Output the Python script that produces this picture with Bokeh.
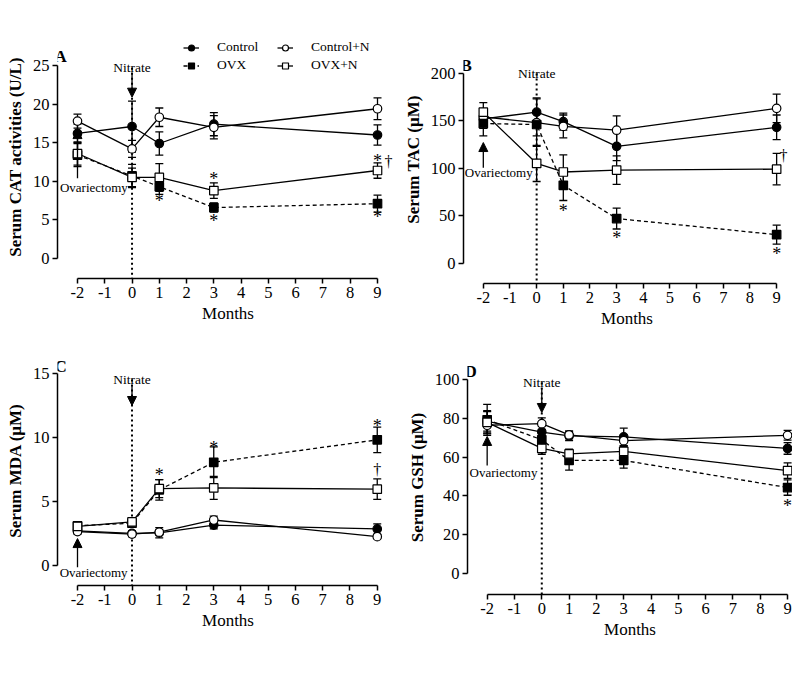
from bokeh.plotting import figure
from bokeh.models import (ColumnDataSource, Whisker, TeeHead, Arrow, NormalHead,
                          Legend, LegendItem, FixedTicker, Label, Range1d)
from bokeh.layouts import column, row
from bokeh.embed import file_html
from bokeh.resources import INLINE
from bokeh.core.properties import value

FONT = "Liberation Serif"

# ---------------- data ----------------
months = [-2, 0, 1, 3, 9]
month_ticks = [-2, -1, 0, 1, 2, 3, 4, 5, 6, 7, 8, 9]
groups = ["Control", "Control+N", "OVX", "OVX+N"]
OVARIECTOMY_MONTH = -2
NITRATE_MONTH = 0

# A: Serum CAT activities (U/L)
cat_ticks = [0, 5, 10, 15, 20, 25]
cat_control = [16.2, 17.1, 14.9, 17.4, 16.0]
cat_control_err = [1.2, 3.3, 1.5, 1.5, 1.3]
cat_control_n = [17.8, 14.2, 18.3, 17.0, 19.4]
cat_control_n_err = [0.9, 1.1, 1.2, 1.5, 1.4]
cat_ovx = [13.4, 10.7, 9.3, 6.6, 7.1]
cat_ovx_err = [1.5, 1.5, 1.0, 0.6, 1.1]
cat_ovx_n = [13.6, 10.5, 10.5, 8.8, 11.4]
cat_ovx_n_err = [1.5, 1.2, 1.8, 1.0, 1.0]
cat_star_x = [1, 3, 3, 9, 9]
cat_star_y = [8.0, 10.8, 5.4, 13.1, 5.85]
cat_dagger_x = [9.4]
cat_dagger_y = [12.6]

# B: Serum TAC (uM)
tac_ticks = [0, 50, 100, 150, 200]
tac_control = [152, 159, 149, 123, 143]
tac_control_err = [10, 15, 9, 15, 13]
tac_control_n = [154, 148, 144, 140, 163]
tac_control_n_err = [8, 25, 12, 15, 15]
tac_ovx = [147, 146, 82, 47, 30]
tac_ovx_err = [13, 12, 16, 11, 10]
tac_ovx_n = [159, 105, 96, 98, 99]
tac_ovx_n_err = [10, 19, 18, 15, 16.5]
tac_star_x = [1, 3, 9]
tac_star_y = [58.9, 30.9, 14]
tac_dagger_x = [9.26]
tac_dagger_y = [113]

# C: Serum MDA (uM)
mda_ticks = [0, 5, 10, 15]
mda_control = [2.7, 2.5, 2.55, 3.15, 2.85]
mda_control_err = [0.2, 0.2, 0.4, 0.3, 0.4]
mda_control_n = [2.65, 2.45, 2.6, 3.55, 2.25]
mda_control_n_err = [0.2, 0.2, 0.2, 0.3, 0.15]
mda_ovx = [3.1, 3.3, 5.9, 8.05, 9.8]
mda_ovx_err = [0.2, 0.2, 0.8, 1.2, 1.0]
mda_ovx_n = [3.05, 3.4, 6.0, 6.05, 5.95]
mda_ovx_n_err = [0.2, 0.2, 0.7, 0.9, 0.8]
mda_star_x = [1, 3, 9]
mda_star_y = [7.4, 9.5, 11.2]
mda_dagger_x = [9]
mda_dagger_y = [7.5]

# D: Serum GSH (uM)
gsh_ticks = [0, 20, 40, 60, 80, 100]
gsh_control = [78.5, 73, 71, 70.5, 64.5]
gsh_control_err = [5, 3, 2.5, 4.5, 3]
gsh_control_n = [76.5, 77.3, 71.5, 68.5, 71.3]
gsh_control_n_err = [4, 3, 2, 3, 2.5]
gsh_ovx = [79.3, 69, 58.3, 58.3, 44.3]
gsh_ovx_err = [8, 4, 5, 4, 4]
gsh_ovx_n = [78, 64.5, 61.7, 63, 53]
gsh_ovx_n_err = [6, 3, 2.5, 3, 4]
gsh_star_x = [9]
gsh_star_y = [36.9]
gsh_dagger_x = []
gsh_dagger_y = []

# ---------------- styles ----------------
STYLES = {
    "Control": dict(marker="circle", fill="black", dash="solid"),
    "Control+N": dict(marker="circle", fill="white", dash="solid"),
    "OVX": dict(marker="square", fill="black", dash="4 3"),
    "OVX+N": dict(marker="square", fill="white", dash="solid"),
}


def make_panel(spec):
    g = spec["geom"]
    p = figure(width=g["w"], height=g["h"],
               x_range=Range1d(*g["xr"]), y_range=Range1d(*g["yr"]),
               min_border_left=g["bl"], min_border_right=g["br"],
               min_border_top=g["bt"], min_border_bottom=g["bb"],
               output_backend="svg", toolbar_location=None, tools="")
    p.grid.visible = False
    p.outline_line_color = None

    p.xaxis.ticker = FixedTicker(ticks=month_ticks)
    p.xaxis.bounds = (month_ticks[0], month_ticks[-1])
    p.xaxis.major_label_overrides = {t: str(t) for t in month_ticks}
    p.yaxis.ticker = FixedTicker(ticks=spec["yticks"])
    p.yaxis.bounds = (spec["yticks"][0], spec["yticks"][-1])
    for ax in p.axis:
        ax.axis_line_width = 1.5
        ax.axis_line_color = "black"
        ax.major_tick_line_width = 1.5
        ax.major_tick_line_color = "black"
        ax.major_tick_out = 5
        ax.major_tick_in = 0
        ax.minor_tick_line_color = None
        ax.major_label_text_font = FONT
        ax.major_label_text_font_size = "16.5px"
        ax.major_label_text_color = "black"
        ax.major_label_standoff = 3
        ax.axis_label_text_font = FONT
        ax.axis_label_text_font_size = "17px"
        ax.axis_label_text_color = "black"
    p.xaxis.axis_label = "Months"
    p.xaxis.axis_label_text_font_style = "normal"
    p.xaxis.axis_label_standoff = 3
    p.yaxis.axis_label = spec["ylabel"]
    p.yaxis.axis_label_text_font_style = "bold"
    p.yaxis.axis_label_standoff = 5

    ann = spec["ann"]
    # dotted nitrate line
    p.segment(x0=[NITRATE_MONTH], y0=[ann["nit_y"]], x1=[NITRATE_MONTH], y1=[g["yr"][0]],
              line_color="black", line_width=2, line_dash="2 3")

    items = []
    for grp in groups:
        y = spec["means"][grp]
        e = spec["errs"][grp]
        src = ColumnDataSource(dict(x=months, y=y,
                                    lo=[a - b for a, b in zip(y, e)],
                                    hi=[a + b for a, b in zip(y, e)]))
        w = Whisker(source=src, base="x", upper="hi", lower="lo",
                    line_width=1.3, line_color="black",
                    upper_head=TeeHead(size=8, line_width=1.3, line_color="black"),
                    lower_head=TeeHead(size=8, line_width=1.3, line_color="black"))
        p.add_layout(w)
        st = STYLES[grp]
        lr = p.line("x", "y", source=src, line_color="black", line_width=1.3, line_dash=st["dash"])
        sr = p.scatter("x", "y", source=src, marker=st["marker"], size=8.5,
                       fill_color=st["fill"], line_color="black", line_width=1.2)
        items.append(LegendItem(label=value(grp), renderers=[lr, sr]))

    # significance marks
    p.text(x=spec["star_x"], y=spec["star_y"], text=["*"] * len(spec["star_x"]),
           text_font=value(FONT), text_font_size="18px", text_align="center",
           text_baseline="middle", y_offset=4, text_color="black")
    if spec["dag_x"]:
        p.text(x=spec["dag_x"], y=spec["dag_y"], text=["\u2020"] * len(spec["dag_x"]),
               text_font=value(FONT), text_font_size="16px", text_align="center",
               text_baseline="middle", text_color="black")

    # annotations
    p.add_layout(Label(x=NITRATE_MONTH, y=ann["nit_y"], text="Nitrate", text_font=FONT,
                       text_font_size="13.5px", text_align="center", text_baseline="middle",
                       text_color="black"))
    if ann.get("nit_arrow"):
        y0, y1 = ann["nit_arrow"]
        p.add_layout(Arrow(x_start=NITRATE_MONTH, y_start=y0, x_end=NITRATE_MONTH, y_end=y1,
                           line_width=1.3, line_color="black",
                           end=NormalHead(size=9, fill_color="black", line_color="black", line_width=1)))
    p.add_layout(Label(x=ann["ovx_x"], y=ann["ovx_y"], text="Ovariectomy", text_font=FONT,
                       text_font_size="13px", text_align="center", text_baseline="middle",
                       text_color="black"))
    y0, y1 = ann["ovx_arrow"]
    p.add_layout(Arrow(x_start=OVARIECTOMY_MONTH, y_start=y0, x_end=OVARIECTOMY_MONTH, y_end=y1,
                       line_width=1.3, line_color="black",
                       end=NormalHead(size=9, fill_color="black", line_color="black", line_width=1)))

    # panel letter
    p.add_layout(Label(x=g["xr"][0], y=ann["letter_y"], x_offset=-3, text=spec["letter"],
                       text_font=FONT, text_font_size="17px", text_font_style="bold",
                       text_align="left", text_baseline="middle", text_color="black"))

    if spec.get("legend"):
        leg = Legend(items=items, orientation="horizontal", ncols=2,
                     location=(126, 205), padding=0, margin=0, spacing=2,
                     glyph_width=16, glyph_height=15, label_height=15, label_width=58,
                     label_standoff=18, label_text_font=FONT, label_text_font_size="13.5px",
                     label_text_baseline="middle", label_text_color="black",
                     border_line_color=None, background_fill_alpha=0)
        p.add_layout(leg)
    return p


pA = make_panel(dict(
    letter="A", ylabel="Serum CAT activities (U/L)", yticks=cat_ticks,
    means={"Control": cat_control, "Control+N": cat_control_n, "OVX": cat_ovx, "OVX+N": cat_ovx_n},
    errs={"Control": cat_control_err, "Control+N": cat_control_n_err, "OVX": cat_ovx_err, "OVX+N": cat_ovx_n_err},
    star_x=cat_star_x, star_y=cat_star_y, dag_x=cat_dagger_x, dag_y=cat_dagger_y,
    ann=dict(nit_y=24.7, nit_arrow=(24.1, 20.9), ovx_x=-1.40, ovx_y=9.22, ovx_arrow=(10.4, 16.7), letter_y=26.2),
    geom=dict(w=400, h=342, bl=57, br=2, bt=35, bb=64, xr=(-2.733, 9.77), yr=(-2.59, 28.89)),
    legend=True))

pB = make_panel(dict(
    letter="B", ylabel="Serum TAC (\u03bcM)", yticks=tac_ticks,
    means={"Control": tac_control, "Control+N": tac_control_n, "OVX": tac_ovx, "OVX+N": tac_ovx_n},
    errs={"Control": tac_control_err, "Control+N": tac_control_n_err, "OVX": tac_ovx_err, "OVX+N": tac_ovx_n_err},
    star_x=tac_star_x, star_y=tac_star_y, dag_x=tac_dagger_x, dag_y=tac_dagger_y,
    ann=dict(nit_y=199.7, nit_arrow=None, ovx_x=-1.42, ovx_y=95, ovx_arrow=(100.5, 127), letter_y=208),
    geom=dict(w=392, h=342, bl=60, br=2, bt=35, bb=59, xr=(-2.743, 9.52), yr=(-21.4, 239.7))))

pC = make_panel(dict(
    letter="C", ylabel="Serum MDA (\u03bcM)", yticks=mda_ticks,
    means={"Control": mda_control, "Control+N": mda_control_n, "OVX": mda_ovx, "OVX+N": mda_ovx_n},
    errs={"Control": mda_control_err, "Control+N": mda_control_n_err, "OVX": mda_ovx_err, "OVX+N": mda_ovx_n_err},
    star_x=mda_star_x, star_y=mda_star_y, dag_x=mda_dagger_x, dag_y=mda_dagger_y,
    ann=dict(nit_y=14.5, nit_arrow=(14.0, 12.48), ovx_x=-1.41, ovx_y=-0.55, ovx_arrow=(-0.13, 2.1), letter_y=15.52),
    geom=dict(w=400, h=335, bl=57, br=2, bt=13, bb=92, xr=(-2.734, 9.78), yr=(-1.56, 16.38))))

pD = make_panel(dict(
    letter="D", ylabel="Serum GSH (\u03bcM)", yticks=gsh_ticks,
    means={"Control": gsh_control, "Control+N": gsh_control_n, "OVX": gsh_ovx, "OVX+N": gsh_ovx_n},
    errs={"Control": gsh_control_err, "Control+N": gsh_control_n_err, "OVX": gsh_ovx_err, "OVX+N": gsh_ovx_n_err},
    star_x=gsh_star_x, star_y=gsh_star_y, dag_x=gsh_dagger_x, dag_y=gsh_dagger_y,
    ann=dict(nit_y=98.6, nit_arrow=(95.5, 83.1), ovx_x=-1.40, ovx_y=52, ovx_arrow=(55.7, 70.7), letter_y=104.3),
    geom=dict(w=392, h=335, bl=67, br=0, bt=18, bb=83, xr=(-2.72, 9.18), yr=(-11.01, 109.98))))

layout = column(row(column(pA), column(pB)), row(column(pC), column(pD)))
open("out.html", "w").write(file_html(layout, INLINE))
